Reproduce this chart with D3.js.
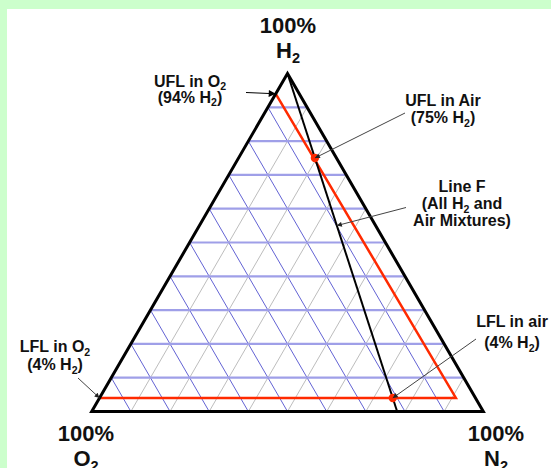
<!DOCTYPE html>
<html><head><meta charset="utf-8">
<script src="https://cdn.jsdelivr.net/npm/d3@7/dist/d3.min.js"></script>
<style>html,body{margin:0;padding:0;background:#ccffcc;} svg{display:block}</style>
</head><body>
<svg id="c" width="551" height="468"></svg>
<script>
// ---------------- data ----------------
const gridLevels = [0.1, 0.2, 0.3, 0.4, 0.5, 0.6, 0.7, 0.8, 0.9];
const vertexNames = ["H", "O", "N"];
const vertexPct = ["100%", "100%", "100%"];
const vertexComp = [{h:1,o:0,n:0},{h:0,o:1,n:0},{h:0,o:0,n:1}];
// flammability envelope (H2 fraction h, O2 fraction o, N2 fraction n)
const flammableRegion = [{h:0.04,o:0.96,n:0},{h:0.04,o:0.05,n:0.91},{h:0.94,o:0.06,n:0}];
const airO2 = 0.22;                      // O2 share of air
const lineFH2 = [1, 0];                  // line F runs from pure H2 to air
const keyH2 = [0.75, 0.04];              // UFL / LFL in air (dots on line F)
const lineFArrowH2 = 0.55;
const uflO2H2 = 0.94, lflO2H2 = 0.04;
const labelNames = ["uflO2","uflAir","lineF","lflAir","lflO2"];
const labelText = {
  uflO2: ["UFL in O_2", "(94% H_2)"],
  uflAir: ["UFL in Air", "(75% H_2)"],
  lineF: ["Line F", "(All H_2 and", "Air Mixtures)"],
  lflAir: ["LFL in air", "(4% H_2)"],
  lflO2: ["LFL in O_2", "(4% H_2)"]
};

// ---------------- layout ----------------
const W = 551, H = 468;
const svg = d3.select("#c");
svg.append("rect").attr("x",7).attr("y",9).attr("width",W-7).attr("height",H-9).attr("fill","#fff");

const x = d3.scaleLinear().domain([0,1]).range([91.7, 483.3]);
const y = d3.scaleLinear().domain([0,1]).range([411.5, 73.5]);
const P = d => [x(d.n + d.h/2), y(d.h)];
const line = d3.line();
const airPt = h => ({h:h, o:(1-h)*airO2, n:(1-h)*(1-airO2)});

const FONT = "Arial, 'Liberation Sans', Helvetica, sans-serif";

// grid: constant N2 (gray)
svg.append("g").selectAll("path").data(gridLevels).join("path")
  .attr("d", v => line([P({h:0,o:1-v,n:v}), P({h:1-v,o:0,n:v})]))
  .attr("stroke","#bdbdbd").attr("stroke-width",1).attr("fill","none");
// grid: constant O2 (blue diagonal)
svg.append("g").selectAll("path").data(gridLevels).join("path")
  .attr("d", v => line([P({h:1-v,o:v,n:0}), P({h:0,o:v,n:1-v})]))
  .attr("stroke","#6363d4").attr("stroke-width",1).attr("fill","none");
// grid: constant H2 (blue horizontal)
svg.append("g").selectAll("path").data(gridLevels).join("path")
  .attr("d", v => line([P({h:v,o:1-v,n:0}), P({h:v,o:0,n:1-v})]))
  .attr("stroke","#9f9fe8").attr("stroke-width",2.2).attr("fill","none");

// flammability region (red)
svg.append("path").attr("d", line(flammableRegion.map(P)))
  .attr("stroke","#ff2a00").attr("stroke-width",2.5).attr("fill","none");

// line F
svg.append("path").attr("d", line(lineFH2.map(h => P(airPt(h)))))
  .attr("stroke","#000").attr("stroke-width",2).attr("fill","none");

// triangle outline
svg.append("path").attr("d", line(vertexComp.map(P)) + "Z")
  .attr("stroke","#000").attr("stroke-width",3).attr("fill","none").attr("stroke-linejoin","miter");

// dots
svg.append("g").selectAll("circle").data(keyH2).join("circle")
  .attr("cx", h => P(airPt(h))[0]).attr("cy", h => P(airPt(h))[1])
  .attr("r",4.2).attr("fill","#ff2a00");

// arrow markers
const defs = svg.append("defs");
defs.append("marker").attr("id","ab").attr("viewBox","0 0 10 10").attr("refX",10).attr("refY",5)
  .attr("markerWidth",8).attr("markerHeight",7).attr("markerUnits","userSpaceOnUse").attr("orient","auto")
  .append("path").attr("d","M0,0L10,5L0,10Z").attr("fill","#000");
defs.append("marker").attr("id","ag").attr("viewBox","0 0 10 10").attr("refX",10).attr("refY",5)
  .attr("markerWidth",6).attr("markerHeight",5).attr("markerUnits","userSpaceOnUse").attr("orient","auto")
  .append("path").attr("d","M0,0L10,5L0,10Z").attr("fill","#222");

const leftEdge = h => P({h:h, o:1-h, n:0});
const labelLayout = {
  uflO2:  {cx:190, y0:86.5, dy:16, from:[246,92.5], to: leftEdge(uflO2H2), mk:"ab", col:"#000"},
  uflAir: {cx:443, y0:106, dy:17, from:[405,113], to: P(airPt(keyH2[0])), mk:"ag", col:"#444"},
  lineF:  {cx:462, y0:192, dy:17, from:[406,207.5], to: P(airPt(lineFArrowH2)), mk:"ag", col:"#444"},
  lflAir: {cx:512, y0:327, dy:21, from:[476,339], to: P(airPt(keyH2[1])), mk:"ag", col:"#444"},
  lflO2:  {cx:55,  y0:352, dy:18, from:[78,378], to: leftEdge(lflO2H2), mk:"ag", col:"#444"}
};

function addLine(g, str, cx, yb, size){
  const t = g.append("text").attr("x",cx).attr("y",yb).attr("text-anchor","middle")
    .style("font-family",FONT).style("font-weight","bold").style("font-size",size+"px").attr("fill","#111");
  const parts = str.split(/_(\d)/);
  let shifted = false;
  parts.forEach((p,i) => {
    if (!p) return;
    if (i % 2 === 1) {
      t.append("tspan").attr("dy", size*0.22).style("font-size",(size*0.66)+"px").text(p);
      shifted = true;
    } else {
      const ts = t.append("tspan").text(p);
      if (shifted) { ts.attr("dy", -size*0.22); shifted = false; }
    }
  });
}

const ann = svg.append("g");
labelNames.forEach(k => {
  const L = labelLayout[k];
  ann.append("line").attr("x1",L.from[0]).attr("y1",L.from[1]).attr("x2",L.to[0]).attr("y2",L.to[1])
    .attr("stroke",L.col).attr("stroke-width",1).attr("marker-end","url(#"+L.mk+")");
  labelText[k].forEach((s,i) => addLine(ann, s, L.cx, L.y0 + i*L.dy, 16));
});

// vertex labels
const vertexLayout = [{cx:288, y0:33},{cx:86, y0:441},{cx:496, y0:441}];
vertexNames.forEach((nm,i) => {
  const L = vertexLayout[i];
  addLine(ann, vertexPct[i], L.cx, L.y0, 22);
  addLine(ann, nm + "_2", L.cx, L.y0 + 25, 22);
});
</script>
</body></html>
